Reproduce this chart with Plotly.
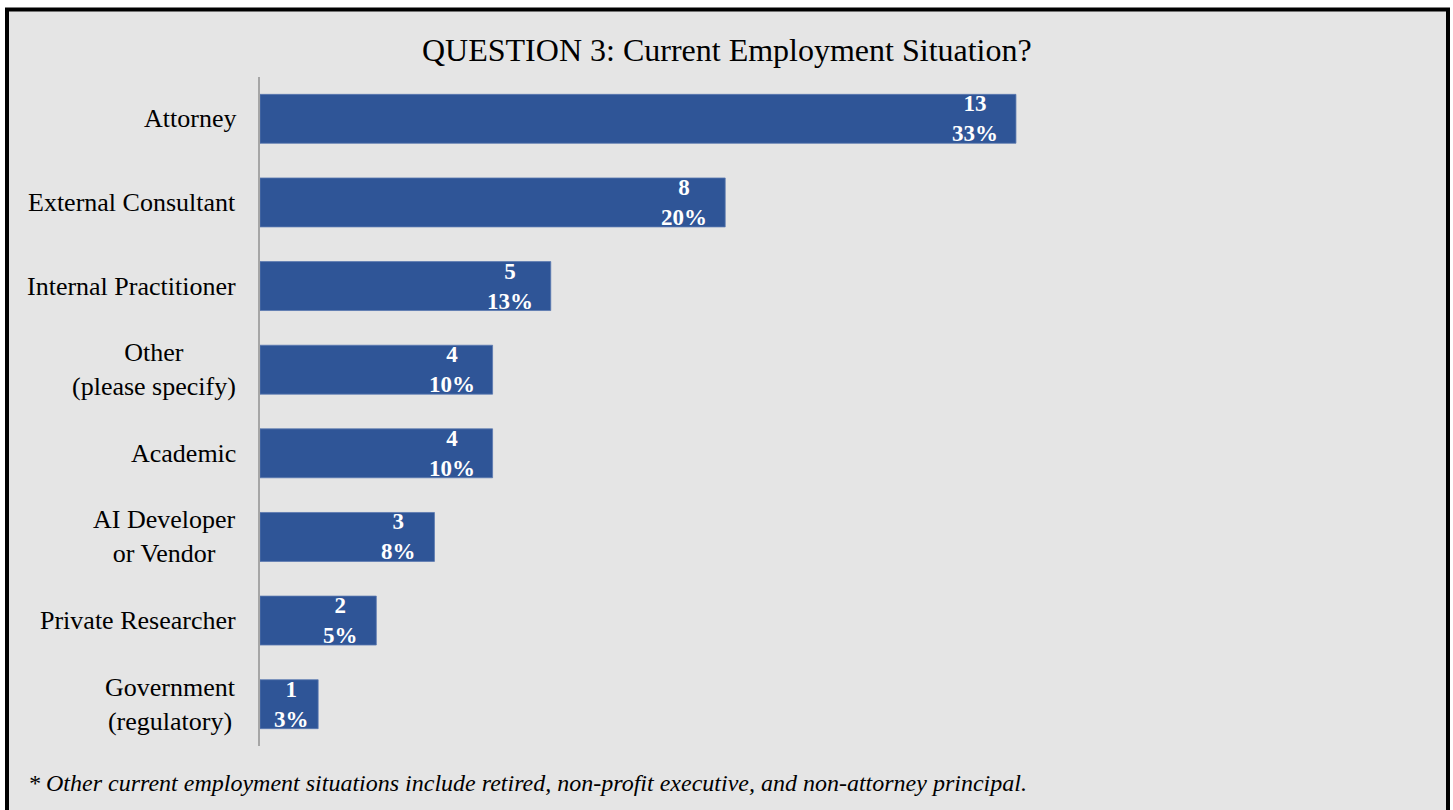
import plotly.graph_objects as go

# Survey responses, Question 3
categories = [
    "Attorney",
    "External Consultant",
    "Internal Practitioner",
    "Other<br>(please specify)",
    "Academic",
    "AI Developer<br>or Vendor",
    "Private Researcher",
    "Government<br>(regulatory)",
]
counts = [13, 8, 5, 4, 4, 3, 2, 1]
percent_labels = ["33%", "20%", "13%", "10%", "10%", "8%", "5%", "3%"]

title_text = "QUESTION 3: Current Employment Situation?"
footnote_text = ("* Other current employment situations include retired, "
                 "non-profit executive, and non-attorney principal.")

W, H = 1453, 810
M_L, M_R, M_T, M_B = 260, 30, 77, 64
plot_w = W - M_L - M_R
plot_h = H - M_T - M_B

BG = "#e5e5e5"
BAR = "#2f5597"
SERIF = "Liberation Serif"


def px_x(px):
    return (px - M_L) / plot_w


def px_y(py):
    return (H - M_B - py) / plot_h


fig = go.Figure()
fig.add_trace(go.Bar(
    x=counts,
    y=categories,
    orientation="h",
    marker=dict(color=BAR, line=dict(color="#5b78b0", width=0.8)),
    width=0.585,
    hoverinfo="skip",
))

annotations = []
# value labels inside the bar ends
for cat, n, pct in zip(categories, counts, percent_labels):
    annotations.append(dict(
        x=n, y=cat, xref="x", yref="y",
        text=f"<b>{n}<br>{pct}</b>",
        showarrow=False, xanchor="right", yanchor="middle", align="center",
        xshift=-16 if n > 1 else -7,
        font=dict(family=SERIF, size=23, color="white"),
    ))
# category labels, lines centred on each other
for cat in categories:
    annotations.append(dict(
        x=0, y=cat, xref="paper", yref="y",
        text=cat, showarrow=False, xanchor="right", yanchor="middle",
        align="center", xshift=-22,
        font=dict(family=SERIF, size=26, color="#000000"),
    ))
annotations.append(dict(
    x=px_x(727), y=px_y(50), xref="paper", yref="paper",
    text=title_text, showarrow=False, xanchor="center", yanchor="middle",
    font=dict(family=SERIF, size=32, color="#000000"),
))
annotations.append(dict(
    x=px_x(26), y=px_y(783), xref="paper", yref="paper",
    text=f"<i>{footnote_text}</i>", showarrow=False, xanchor="left",
    yanchor="middle",
    font=dict(family=SERIF, size=24, color="#000000"),
))

shapes = [
    # framed grey panel, open at the bottom edge of the page
    dict(type="rect", xref="paper", yref="paper", layer="below",
         x0=px_x(7), x1=px_x(1448), y0=px_y(830), y1=px_y(9.5),
         fillcolor=BG, line=dict(color="#000000", width=4)),
]

fig.update_layout(
    width=W, height=H,
    margin=dict(l=M_L, r=M_R, t=M_T, b=M_B, pad=0),
    paper_bgcolor="white",
    plot_bgcolor="rgba(0,0,0,0)",
    showlegend=False,
    bargap=0.415,
    xaxis=dict(range=[0, 20], showgrid=False, zeroline=False,
               showticklabels=False, showline=False, ticks="", fixedrange=True),
    yaxis=dict(categoryorder="array", categoryarray=categories[::-1],
               showgrid=False, zeroline=False, showticklabels=False,
               showline=True, linecolor="#a6a6a6", linewidth=2,
               ticks="", fixedrange=True),
    annotations=annotations,
    shapes=shapes,
)

fig.write_html("out.html")
